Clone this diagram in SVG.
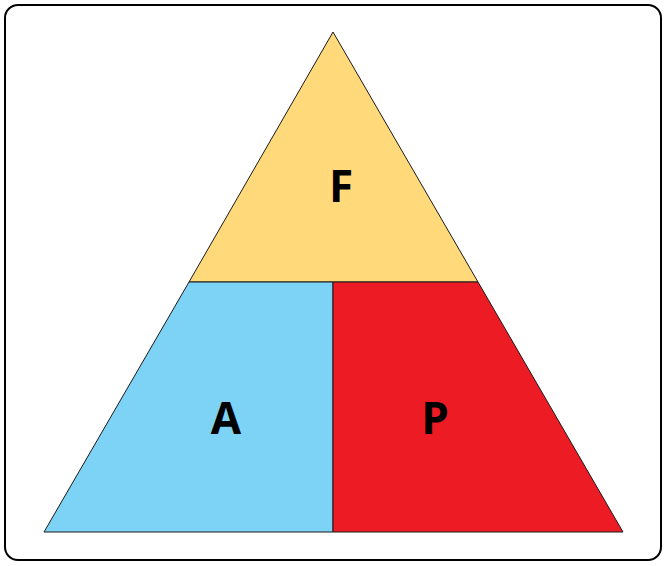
<svg xmlns="http://www.w3.org/2000/svg" width="666" height="566" viewBox="0 0 666 566">
<style>
.part{stroke:#1a1a1a;stroke-width:1;stroke-linejoin:miter}
.lbl{font-family:"Open Sans","Liberation Sans",sans-serif;font-weight:bold;font-size:44px;fill:#000;text-anchor:middle}
</style>
<rect x="5" y="5" width="656" height="555" rx="13" ry="13" fill="#fff" stroke="#000" stroke-width="2"/>
<g id="F"><polygon class="part" points="333,32 478,282 189,282" fill="#FFD97A"/><text class="lbl" x="341" y="202">F</text></g>
<g id="A"><polygon class="part" points="189,282 333,282 333,532 44,532" fill="#7DD3F5"/><text class="lbl" x="226" y="434">A</text></g>
<g id="P"><polygon class="part" points="333,282 478,282 623,532 333,532" fill="#ED1C24"/><text class="lbl" x="435" y="434">P</text></g>
<g id="connectors"></g>
</svg>
